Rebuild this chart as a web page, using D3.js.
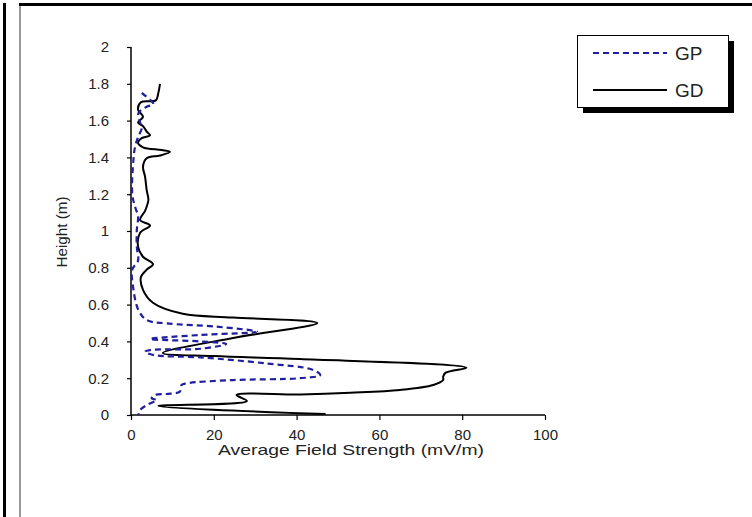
<!DOCTYPE html>
<html><head><meta charset="utf-8">
<script src="https://cdn.jsdelivr.net/npm/d3@7/dist/d3.min.js"></script>
<style>body{margin:0;background:#fff}svg{display:block}text{font-family:"Liberation Sans",Arial,sans-serif;fill:#222}</style>
</head><body>
<script>
// Data (height in m, average field strength in mV/m)
const gdHeight = [1.80,1.75,1.71,1.70,1.66,1.62,1.59,1.57,1.54,1.52,1.505,1.48,1.455,1.44,1.43,1.41,1.395,1.35,1.295,1.22,1.17,1.11,1.06,1.03,0.99,0.915,0.86,0.82,0.79,0.75,0.68,0.61,0.55,0.53,0.50,0.42,0.337,0.32,0.304,0.257,0.23,0.208,0.19,0.163,0.136,0.121,0.112,0.109,0.076,0.049,0.005];
const gdValue  = [7.0,6.6,6.0,2.4,1.7,2.9,1.7,2.9,3.8,4.6,2.6,1.7,2.9,7.4,9.4,7.0,3.8,2.9,3.4,3.8,4.2,3.4,2.2,4.6,2.2,1.7,2.9,5.3,3.8,2.4,2.9,5.3,12.5,24.6,45.0,25.0,7.7,20.0,40.8,81.0,76.0,75.4,75.4,73.0,65.0,53.0,41.0,25.5,28.0,6.6,47.0];
const gpHeight = [1.75,1.69,1.675,1.64,1.59,1.56,1.51,1.46,1.39,1.2,1.13,1.08,1.005,0.915,0.84,0.79,0.68,0.57,0.516,0.498,0.48,0.453,0.435,0.413,0.40,0.386,0.36,0.353,0.344,0.326,0.313,0.28,0.245,0.217,0.20,0.19,0.172,0.163,0.127,0.114,0.109,0.09,0.082,0.054,0.027,0.0];
const gpValue  = [2.6,5.4,3.8,1.8,2.2,2.6,1.7,1.0,0.6,0.3,1.0,1.7,1.4,1.4,1.7,0.3,0.6,1.8,3.8,8.6,20.7,30.4,16.7,4.6,16.7,23.0,16.7,4.6,3.4,5.4,16.7,32.8,44.0,45.7,40.8,24.7,13.4,12.2,11.8,8.6,5.8,5.0,6.2,3.8,2.2,1.8];
const xTicks = [0,20,40,60,80,100];
const yTicks = [0,0.2,0.4,0.6,0.8,1,1.2,1.4,1.6,1.8,2];
const yTickLabels = ["0","0.2","0.4","0.6","0.8","1","1.2","1.4","1.6","1.8","2"];
const seriesNames = ["GP","GD"];
const xTitle = "Average Field Strength (mV/m)";
const yTitle = "Height (m)";

const W = 752, H = 517;
const svg = d3.select("body").append("svg").attr("width", W).attr("height", H);

// frame
svg.append("line").attr("x1",4.5).attr("x2",4.5).attr("y1",3).attr("y2",H).attr("stroke","#000").attr("stroke-width",3);
svg.append("line").attr("x1",19).attr("x2",W).attr("y1",4.5).attr("y2",4.5).attr("stroke","#000").attr("stroke-width",3);
svg.append("line").attr("x1",20).attr("x2",20).attr("y1",6).attr("y2",H).attr("stroke","#999").attr("stroke-width",2);

const x = d3.scaleLinear().domain([0,100]).range([131,545]);
const y = d3.scaleLinear().domain([0,2]).range([415,47]);

// axes
const yAxis = d3.axisLeft(y).tickValues(yTicks).tickSize(4).tickPadding(18)
  .tickFormat((d,i)=>yTickLabels[i]);
const gy = svg.append("g").attr("transform","translate(131,0)").call(yAxis);
const xAxis = d3.axisBottom(x).tickValues(xTicks).tickSize(5).tickPadding(9);
const gx = svg.append("g").attr("transform","translate(0,415)").call(xAxis);
[gx,gy].forEach(g=>{
  g.select(".domain").attr("stroke","#000").attr("stroke-width",1.5);
  g.selectAll(".tick line").attr("stroke","#000").attr("stroke-width",1.2);
  g.selectAll("text").style("font-family","'Liberation Sans',Arial,sans-serif").style("font-size","15px").attr("fill","#222");
});
gy.select(".domain").attr("d","M0,415V47");
gx.select(".domain").attr("d","M131,0H545");

svg.append("text").attr("x",351).attr("y",455).attr("text-anchor","middle").style("font-size","15px")
  .attr("textLength",266).attr("lengthAdjust","spacingAndGlyphs").text(xTitle);
svg.append("text").attr("transform","translate(67,232) rotate(-90)").attr("text-anchor","middle").style("font-size","14px")
  .attr("textLength",71).attr("lengthAdjust","spacingAndGlyphs").text(yTitle);

const line = d3.line().x(d=>x(d[1])).y(d=>y(d[0])).curve(d3.curveCatmullRom.alpha(0.5));
const gp = gpHeight.map((h,i)=>[h,gpValue[i]]);
const gd = gdHeight.map((h,i)=>[h,gdValue[i]]);
svg.append("path").datum(gd).attr("d",line).attr("fill","none").attr("stroke","#000").attr("stroke-width",2);
svg.append("path").datum(gp).attr("d",line).attr("fill","none").attr("stroke","#1f1fa0").attr("stroke-width",2.2).attr("stroke-dasharray","6,4");

// legend
const lg = svg.append("g");
lg.append("rect").attr("x",583).attr("y",41).attr("width",151).attr("height",72).attr("fill","#000");
lg.append("rect").attr("x",577.5).attr("y",35.5).attr("width",151).attr("height",72).attr("fill","#fff").attr("stroke","#000").attr("stroke-width",1);
lg.append("line").attr("x1",593).attr("x2",667).attr("y1",53).attr("y2",53).attr("stroke","#1f1fa0").attr("stroke-width",2.2).attr("stroke-dasharray","6,4");
lg.append("line").attr("x1",593).attr("x2",667).attr("y1",90).attr("y2",90).attr("stroke","#000").attr("stroke-width",2);
lg.append("text").attr("x",675).attr("y",60).style("font-size","19px").text(seriesNames[0]);
lg.append("text").attr("x",675).attr("y",97).style("font-size","19px").text(seriesNames[1]);
</script>
</body></html>
